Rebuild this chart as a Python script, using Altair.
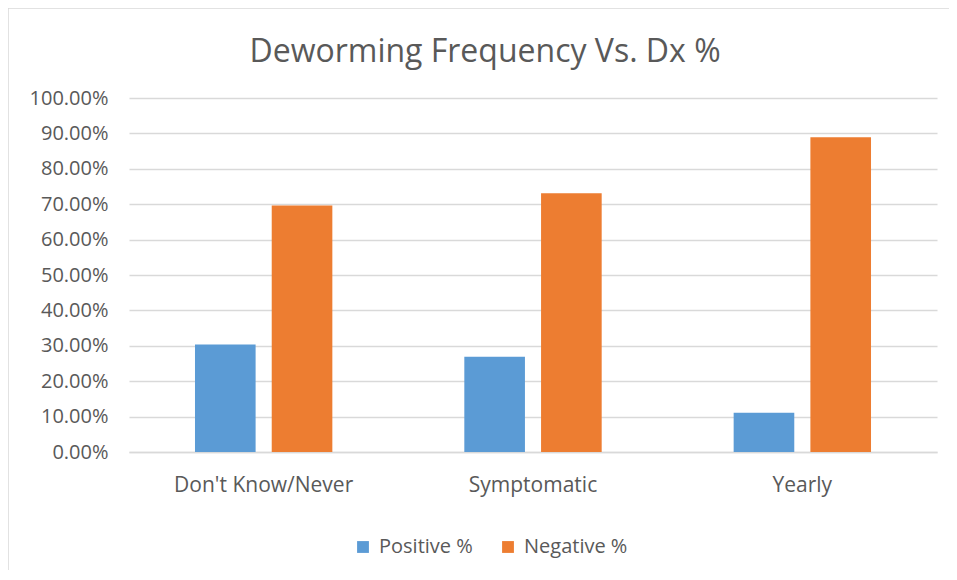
import altair as alt
import pandas as pd

categories = ["Don't Know/Never", "Symptomatic", "Yearly"]
series_names = ["Positive %", "Negative %"]
positive = [0.304, 0.269, 0.111]
negative = [0.696, 0.731, 0.889]
y_ticks = [i / 10 for i in range(11)]

rows = []
for c, p, n in zip(categories, positive, negative):
    rows.append({"cat": c, "series": series_names[0], "value": p})
    rows.append({"cat": c, "series": series_names[1], "value": n})
df = pd.DataFrame(rows)

FONT = "Open Sans"
TXT = "#595959"
GRID = "#D9D9D9"

bars = alt.Chart(df).mark_bar().encode(
    x=alt.X("cat:N", sort=categories, title=None,
            scale=alt.Scale(paddingInner=0.49, paddingOuter=0.245),
            axis=alt.Axis(labelAngle=0, labelFontSize=21, labelColor=TXT, labelFont=FONT,
                          ticks=False, domainColor=GRID, domainWidth=1.5, labelPadding=22)),
    xOffset=alt.XOffset("series:N", sort=series_names,
                        scale=alt.Scale(paddingInner=0.21, paddingOuter=0)),
    y=alt.Y("value:Q", title=None,
            scale=alt.Scale(domain=[0, 1], nice=False),
            axis=alt.Axis(values=y_ticks, format=".2%", labelFontSize=20, labelColor=TXT,
                          labelFont=FONT, ticks=False, domain=False, gridColor=GRID,
                          gridWidth=1.5, labelPadding=21)),
    color=alt.Color("series:N", sort=series_names, title=None,
                    scale=alt.Scale(domain=series_names, range=["#5B9BD5", "#ED7D31"]),
                    legend=alt.Legend(orient="none", legendX=224, legendY=439, direction="horizontal",
                                      symbolType="square", symbolSize=140, symbolStrokeWidth=0,
                                      labelFontSize=20, labelColor=TXT, labelFont=FONT,
                                      columnPadding=25, labelOffset=6)),
)

frame = alt.Chart(pd.DataFrame({"a": [0]})).mark_rect(
    fill=None, stroke=GRID, strokeWidth=1.5
).encode(x=alt.value(-121), x2=alt.value(900), y=alt.value(-90), y2=alt.value(600))

chart = alt.layer(frame, bars).properties(
    width=808, height=354,
    title=alt.TitleParams("Deworming Frequency Vs. Dx %", fontSize=32, font=FONT, color=TXT,
                          fontWeight="normal", anchor="middle", dx=-48, offset=-62),
    autosize=alt.AutoSizeParams(type="none"),
    padding={"left": 121, "top": 90, "right": 12, "bottom": 118},
).configure_view(stroke=None)

chart.save("out.html", embed_options={"renderer": "svg", "actions": False})
